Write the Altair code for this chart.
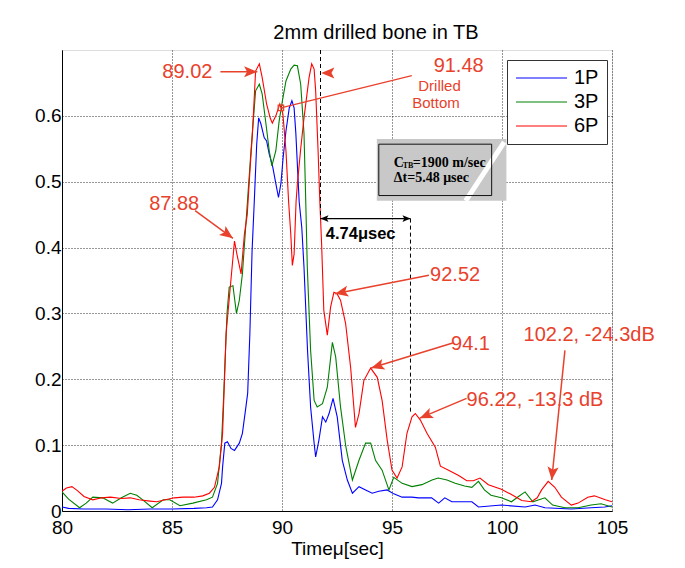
import math
import altair as alt
import pandas as pd

# ---------------- data ----------------
series_names = ["1P", "3P", "6P"]
series_colors = ["#0000ff", "#008000", "#ff0000"]

t_1p = [80.0, 80.3, 81.0, 82.0, 83.0, 84.0, 85.0, 86.0, 86.57, 86.84, 87.07, 87.25, 87.3, 87.4,
        87.52, 87.68, 87.84, 88.06, 88.2, 88.36, 88.44, 88.54, 88.64, 88.74, 88.85, 88.94, 89.04,
        89.19, 89.3, 89.42, 89.57, 89.72, 89.84, 89.95, 90.05, 90.18, 90.33, 90.45, 90.55, 90.63,
        90.78, 90.9, 91.0, 91.16, 91.3, 91.46, 91.53, 91.68, 91.84, 91.99, 92.14, 92.32, 92.51,
        92.74, 92.97, 93.2, 93.5, 93.8, 94.1, 94.4, 94.78, 95.08, 95.46, 95.9, 96.2, 96.8, 97.12,
        97.4, 97.72, 98.63, 98.93, 99.98, 101.05, 101.5, 101.95, 103.15, 104.05, 104.67, 105.0]
v_1p = [0.006, 0.004, 0.003, 0.003, 0.002, 0.003, 0.003, 0.004, 0.005, 0.006, 0.017, 0.042, 0.067, 0.103,
        0.105, 0.095, 0.092, 0.103, 0.118, 0.158, 0.179, 0.27, 0.395, 0.47, 0.557, 0.597, 0.588,
        0.567, 0.562, 0.542, 0.524, 0.497, 0.476, 0.497, 0.536, 0.577, 0.612, 0.623, 0.612, 0.573,
        0.47, 0.43, 0.37, 0.244, 0.158, 0.103, 0.082, 0.108, 0.143, 0.135, 0.148, 0.171, 0.143,
        0.077, 0.047, 0.027, 0.037, 0.032, 0.027, 0.030, 0.032, 0.026, 0.021, 0.021, 0.020, 0.020, 0.012,
        0.020, 0.014, 0.014, 0.006, 0.009, 0.006, 0.009, 0.005, 0.003, 0.005, 0.006, 0.008]

t_3p = [80.0, 80.3, 80.8, 81.1, 81.4, 81.85, 82.3, 82.7, 83.1, 83.4, 83.67, 84.1, 84.6, 84.9, 85.36,
        85.95, 86.57, 86.84, 87.07, 87.25, 87.34, 87.4, 87.5, 87.6, 87.77, 87.93, 88.06, 88.2, 88.43,
        88.59, 88.8, 88.97, 89.1, 89.27, 89.42, 89.54, 89.72, 89.87, 90.02, 90.18, 90.4, 90.55, 90.7,
        90.85, 91.0, 91.08, 91.15, 91.3, 91.46, 91.6, 91.84, 92.06, 92.29, 92.44, 92.66, 92.9, 93.2,
        93.5, 93.8, 94.03, 94.25, 94.55, 94.86, 95.08, 95.46, 95.91, 96.36, 96.82, 97.1, 97.5, 97.87,
        98.3, 98.63, 98.93, 99.2, 99.5, 99.97, 100.43, 100.75, 101.05, 101.4, 101.95, 102.3, 102.86,
        103.46, 104.05, 104.5, 105.0]
v_3p = [0.029, 0.018, 0.005, 0.012, 0.021, 0.020, 0.012, 0.020, 0.027, 0.024, 0.017, 0.005, 0.017, 0.017, 0.008,
        0.012, 0.017, 0.021, 0.042, 0.103, 0.168, 0.218, 0.30, 0.34, 0.342, 0.30, 0.32, 0.36, 0.47,
        0.547, 0.638, 0.648, 0.633, 0.588, 0.547, 0.524, 0.547, 0.592, 0.623, 0.653, 0.671, 0.677, 0.676,
        0.648, 0.573, 0.47, 0.37, 0.244, 0.168, 0.158, 0.163, 0.188, 0.256, 0.234, 0.158, 0.098, 0.047,
        0.077, 0.103, 0.103, 0.077, 0.062, 0.032, 0.051, 0.042, 0.037, 0.040, 0.047, 0.050, 0.047, 0.042,
        0.038, 0.036, 0.045, 0.032, 0.024, 0.020, 0.014, 0.022, 0.029, 0.014, 0.020, 0.009, 0.005,
        0.005, 0.009, 0.011, 0.006]

t_6p = [80.0, 80.2, 80.45, 80.7, 81.0, 81.4, 81.8, 82.2, 82.7, 83.1, 83.5, 84.0, 84.3, 84.7, 85.1,
        85.5, 86.0, 86.4, 86.7, 86.93, 87.15, 87.3, 87.46, 87.69, 87.84, 87.95, 88.14, 88.29, 88.42,
        88.55, 88.65, 88.8, 88.97, 89.1, 89.3, 89.46, 89.56, 89.72, 89.9, 89.98, 90.04, 90.18, 90.3,
        90.4, 90.47, 90.55, 90.64, 90.7, 90.85, 91.0, 91.23, 91.35, 91.46, 91.53, 91.64, 91.72, 91.8,
        91.9, 92.06, 92.21, 92.36, 92.5, 92.66, 92.89, 93.12, 93.34, 93.5, 93.72, 94.03, 94.33, 94.55,
        94.78, 95.0, 95.23, 95.46, 95.68, 95.91, 96.06, 96.29, 96.59, 96.97, 97.2, 97.57, 98.03, 98.4,
        98.7, 99.0, 99.38, 99.97, 100.43, 100.9, 101.33, 101.6, 101.8, 102.1, 102.4, 102.7, 103.15,
        103.46, 103.9, 104.2, 104.7, 105.0]
v_6p = [0.030, 0.035, 0.037, 0.031, 0.022, 0.017, 0.020, 0.021, 0.019, 0.020, 0.017, 0.015, 0.014, 0.017, 0.020,
        0.021, 0.021, 0.023, 0.027, 0.036, 0.067, 0.118, 0.27, 0.355, 0.41, 0.39, 0.36, 0.42, 0.45,
        0.52, 0.57, 0.668, 0.679, 0.658, 0.618, 0.597, 0.589, 0.600, 0.618, 0.610, 0.603, 0.547, 0.47,
        0.42, 0.373, 0.39, 0.47, 0.497, 0.55, 0.597, 0.658, 0.679, 0.671, 0.638, 0.547, 0.47, 0.406,
        0.305, 0.267, 0.31, 0.332, 0.33, 0.32, 0.285, 0.218, 0.127, 0.148, 0.198, 0.217, 0.203, 0.168,
        0.108, 0.062, 0.05, 0.067, 0.118, 0.143, 0.148, 0.138, 0.118, 0.097, 0.068, 0.062, 0.054, 0.046,
        0.046, 0.050, 0.040, 0.033, 0.025, 0.016, 0.014, 0.020, 0.032, 0.045, 0.036, 0.021, 0.009,
        0.012, 0.021, 0.023, 0.017, 0.014]

x_ticks = [80, 85, 90, 95, 100, 105]
y_ticks = [0, 0.1, 0.2, 0.3, 0.4, 0.5, 0.6]

# annotation texts (red, large)
note_text = ["89.02", "87.88", "91.48", "92.52", "94.1", "96.22, -13.3 dB", "102.2, -24.3dB"]
note_x = [85.7, 85.1, 98.03, 97.87, 98.57, 101.5, 103.96]
note_y = [0.666, 0.466, 0.676, 0.358, 0.254, 0.168, 0.267]

# small red texts
small_text = ["Drilled", "Bottom"]
small_x = [97.16, 97.0]
small_y = [0.645, 0.619]

# arrows (tail -> tip)
arr_x1 = [87.2, 86.05, 96.68, 97.76, 98.39, 102.86]
arr_y1 = [0.667, 0.456, 0.358, 0.255, 0.171, 0.244]
arr_x2 = [88.88, 87.77, 92.41, 94.05, 96.26, 102.26]
arr_y2 = [0.667, 0.414, 0.330, 0.217, 0.141, 0.047]

# lone arrow head next to the 91.48 peak
lone_x, lone_y = 91.78, 0.665

# line from the "Drilled Bottom" marker
drill_x = [89.95, 95.9]
drill_y = [0.612, 0.661]

# dashed verticals and 4.74 usec span
dash_x = [91.75, 95.84]
dash_top = [0.70, 0.444]
dash_bot = [0.444, 0.148]
span_x = [91.75, 95.84]
span_y = 0.444
span_label = "4.74μsec"
span_label_x, span_label_y = 91.99, 0.42

# gray info box
box_x = [94.31, 100.2]
box_y = [0.471, 0.565]
inner_x = [94.4, 99.53]
inner_y = [0.479, 0.557]
box_line1_y = 0.529
box_line2_y = 0.505
box_text_x = 95.08

# ---------------- layout ----------------
W, H = 550, 461
X_DOM = [80, 105]
Y_DOM = [0, 0.7]
PX_X = W / (X_DOM[1] - X_DOM[0])
PX_Y = H / (Y_DOM[1] - Y_DOM[0])

RED = "#e8412c"
FONT = "Liberation Sans"
GRID = "#1a1a1a"

xscale = alt.Scale(domain=X_DOM, nice=False, zero=False)
yscale = alt.Scale(domain=Y_DOM, nice=False, zero=False)
cscale = alt.Scale(domain=series_names, range=series_colors)

x_axis = alt.Axis(values=x_ticks, title="Timeμ[sec]", labelFontSize=19, titleFontSize=19,
                  labelFont=FONT, titleFont=FONT, titleFontWeight="normal", ticks=False,
                  labelPadding=7, titlePadding=2, labelColor="black", titleColor="black",
                  domainColor="black", grid=True, gridDash=[1, 2], gridColor=GRID, gridOpacity=0.9,
                  labelFlush=False)
y_axis = alt.Axis(values=y_ticks, title=None, labelFontSize=19, labelFont=FONT, ticks=False,
                  labelPadding=1, labelColor="black", domainColor="black", grid=True,
                  gridDash=[1, 2], gridColor=GRID, gridOpacity=0.9,
                  labelExpr="datum.value == 0 ? '0' : format(datum.value, '.1f')")

legend = alt.Legend(title=None, orient="none", legendX=445, legendY=10, direction="vertical",
                    symbolType="stroke", symbolSize=2601, symbolStrokeWidth=1.2,
                    labelFontSize=20, labelFont=FONT, labelColor="black",
                    strokeColor="#333", fillColor="white", padding=8, rowPadding=4,
                    labelOffset=6, clipHeight=20)


def series_df(name, xs, ys):
    return pd.DataFrame({"t": xs, "v": ys, "series": name})


line_layers = []
for name, xs, ys in [("1P", t_1p, v_1p), ("3P", t_3p, v_3p), ("6P", t_6p, v_6p)]:
    line_layers.append(
        alt.Chart(series_df(name, xs, ys)).mark_line(strokeWidth=1.1, clip=True).encode(
            x=alt.X("t:Q", scale=xscale, axis=x_axis),
            y=alt.Y("v:Q", scale=yscale, axis=y_axis),
            color=alt.Color("series:N", scale=cscale, legend=legend),
        )
    )


def ax(field):
    return alt.X(field, scale=xscale, axis=x_axis)


def ay(field):
    return alt.Y(field, scale=yscale, axis=y_axis)


# gray box
box_df = pd.DataFrame({"x1": [box_x[0]], "x2": [box_x[1]], "y1": [box_y[0]], "y2": [box_y[1]]})
box = alt.Chart(box_df).mark_rect(fill="#c8c8c8").encode(
    x=ax("x1:Q"), x2="x2:Q", y=ay("y1:Q"), y2="y2:Q")
stripe_df = pd.DataFrame({"x1": [box_x[1] - 0.1], "y1": [box_y[1] - 0.005],
                          "x2": [box_x[1] - 1.85], "y2": [box_y[0]]})
stripe = alt.Chart(stripe_df).mark_rule(color="white", strokeWidth=5).encode(
    x=ax("x1:Q"), y=ay("y1:Q"), x2="x2:Q", y2="y2:Q")
inner_df = pd.DataFrame({"x1": [inner_x[0]], "x2": [inner_x[1]], "y1": [inner_y[0]], "y2": [inner_y[1]]})
inner = alt.Chart(inner_df).mark_rect(fill=None, stroke="#111", strokeWidth=1).encode(
    x=ax("x1:Q"), x2="x2:Q", y=ay("y1:Q"), y2="y2:Q")

box_font = "Liberation Serif"
bt1 = pd.DataFrame({"x": [box_text_x], "y": [box_line1_y], "s": ["C"]})
bt2 = pd.DataFrame({"x": [box_text_x], "y": [box_line1_y], "s": ["TB"]})
bt3 = pd.DataFrame({"x": [box_text_x], "y": [box_line1_y], "s": ["=1900 m/sec"]})
bt4 = pd.DataFrame({"x": [box_text_x], "y": [box_line2_y], "s": ["Δt=5.48 μsec"]})
box_texts = [
    alt.Chart(bt1).mark_text(font=box_font, fontWeight="bold", fontSize=14, align="left",
                             baseline="middle", color="black").encode(x=ax("x:Q"), y=ay("y:Q"), text="s:N"),
    alt.Chart(bt2).mark_text(font=box_font, fontWeight="bold", fontSize=8, align="left",
                             baseline="middle", color="black", dx=9, dy=3).encode(x=ax("x:Q"), y=ay("y:Q"), text="s:N"),
    alt.Chart(bt3).mark_text(font=box_font, fontWeight="bold", fontSize=14, align="left",
                             baseline="middle", color="black", dx=19).encode(x=ax("x:Q"), y=ay("y:Q"), text="s:N"),
    alt.Chart(bt4).mark_text(font=box_font, fontWeight="bold", fontSize=14, align="left",
                             baseline="middle", color="black").encode(x=ax("x:Q"), y=ay("y:Q"), text="s:N"),
]

# dashed verticals
dash_df = pd.DataFrame({"x": dash_x, "y1": dash_top, "y2": dash_bot})
dashes = alt.Chart(dash_df).mark_rule(color="black", strokeDash=[4, 3], strokeWidth=1).encode(
    x=ax("x:Q"), y=ay("y1:Q"), y2="y2:Q")

# span double arrow
span_df = pd.DataFrame({"x1": [span_x[0]], "x2": [span_x[1]], "y": [span_y]})
span_rule = alt.Chart(span_df).mark_rule(color="black", strokeWidth=1.3).encode(
    x=ax("x1:Q"), x2="x2:Q", y=ay("y:Q"))

HEAD = "M0,0L-0.42,1L0,0.78L0.42,1Z"


def head_angle(x1, y1, x2, y2):
    dx = (x2 - x1) * PX_X
    dy = -(y2 - y1) * PX_Y
    return math.degrees(math.atan2(dx, -dy)) % 360


span_heads_df = pd.DataFrame({"x": span_x, "y": [span_y, span_y], "a": [270.0, 90.0]})
span_heads = alt.Chart(span_heads_df).mark_point(shape=HEAD, filled=True, color="black", size=256,
                                                 opacity=1, strokeWidth=0).encode(
    x=ax("x:Q"), y=ay("y:Q"), angle=alt.Angle("a:Q", scale=None))

span_text_df = pd.DataFrame({"x": [span_label_x], "y": [span_label_y], "s": [span_label]})
span_text = alt.Chart(span_text_df).mark_text(font=FONT, fontWeight="bold", fontSize=16.5, align="left",
                                              baseline="middle", color="black").encode(
    x=ax("x:Q"), y=ay("y:Q"), text="s:N")

# red arrows
arr_df = pd.DataFrame({"x1": arr_x1, "y1": arr_y1, "x2": arr_x2, "y2": arr_y2})
arr_df["a"] = [head_angle(a, b, c, d) for a, b, c, d in zip(arr_x1, arr_y1, arr_x2, arr_y2)]
arr_rules = alt.Chart(arr_df).mark_rule(color=RED, strokeWidth=1.5).encode(
    x=ax("x1:Q"), y=ay("y1:Q"), x2="x2:Q", y2="y2:Q")
heads_df = pd.DataFrame({"x": arr_x2 + [lone_x], "y": arr_y2 + [lone_y],
                         "a": list(arr_df["a"]) + [270.0]})
arr_heads = alt.Chart(heads_df).mark_point(shape=HEAD, filled=True, color=RED, size=700,
                                           opacity=1, strokeWidth=0).encode(
    x=ax("x:Q"), y=ay("y:Q"), angle=alt.Angle("a:Q", scale=None))

drill_df = pd.DataFrame({"x1": [drill_x[0]], "y1": [drill_y[0]], "x2": [drill_x[1]], "y2": [drill_y[1]]})
drill_rule = alt.Chart(drill_df).mark_rule(color=RED, strokeWidth=1.2).encode(
    x=ax("x1:Q"), y=ay("y1:Q"), x2="x2:Q", y2="y2:Q")
drill_mark = alt.Chart(pd.DataFrame({"x": [drill_x[0]], "y": [drill_y[0]]})).mark_point(
    shape="square", color=RED, size=30, strokeWidth=1.2, opacity=1).encode(x=ax("x:Q"), y=ay("y:Q"))

note_df = pd.DataFrame({"x": note_x, "y": note_y, "s": note_text})
notes = alt.Chart(note_df).mark_text(font=FONT, fontSize=20, color=RED, align="center",
                                     baseline="middle").encode(x=ax("x:Q"), y=ay("y:Q"), text="s:N")
small_df = pd.DataFrame({"x": small_x, "y": small_y, "s": small_text})
smalls = alt.Chart(small_df).mark_text(font=FONT, fontSize=15, color=RED, align="center",
                                       baseline="middle").encode(x=ax("x:Q"), y=ay("y:Q"), text="s:N")

chart = alt.layer(
    *line_layers, dashes, box, stripe, inner, *box_texts, span_rule, span_heads, span_text,
    drill_rule, drill_mark, arr_rules, arr_heads, notes, smalls
).properties(
    width=W, height=H,
    title=alt.TitleParams("2mm drilled bone in TB", fontSize=20, font=FONT, fontWeight="normal",
                          color="black", anchor="middle", dx=39, offset=7),
    padding={"left": 54, "top": 42, "right": 60, "bottom": 48},
    autosize=alt.AutoSizeParams(type="none"),
).configure_view(
    stroke="black", strokeWidth=1
).configure(background="white")

chart.save("out.html", embed_options={"renderer": "svg", "actions": False})
